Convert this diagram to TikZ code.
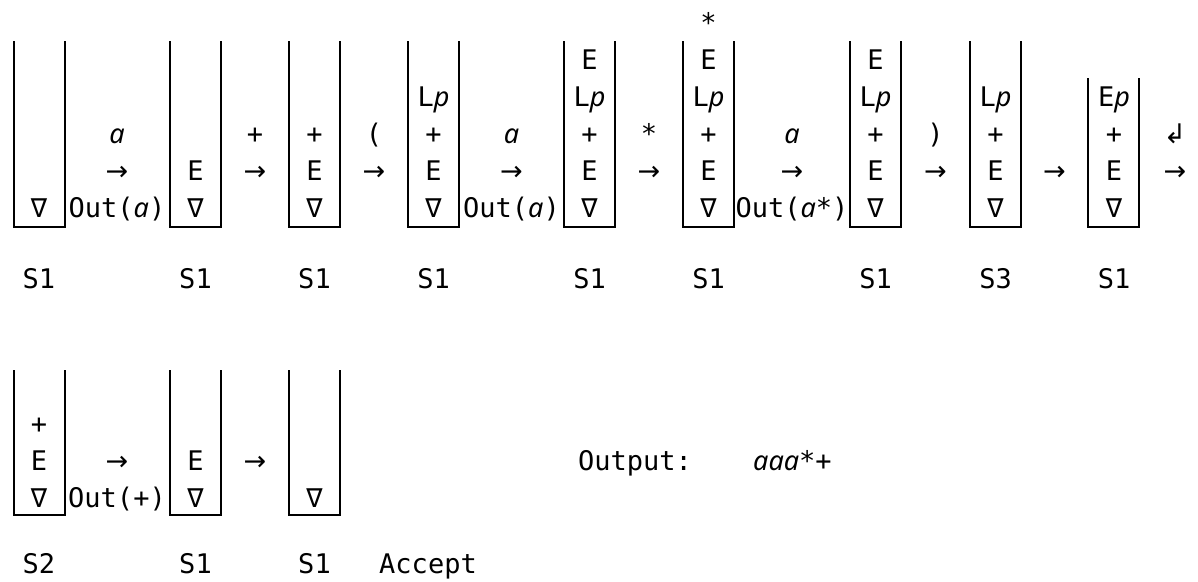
\documentclass[tikz,border=0pt]{standalone}
\usepackage{fontspec}
\setmonofont{DejaVu Sans Mono}
\newfontfamily\symfont{DejaVu Sans}
\newfontfamily\varfont{Noto Sans}
\newcommand{\va}{{\varfont\itshape a}}
\newcommand{\vp}{{\varfont\itshape p}}
\newcommand{\ra}{{\symfont →}}
\usetikzlibrary{positioning}

\begin{document}
\begin{tikzpicture}[x=1pt,y=-1pt,font=\ttfamily\fontsize{27}{30}\selectfont,
stk/.style={line width=1.9pt},
cell/.style={inner sep=0pt,anchor=base},
lbl/.style={inner sep=0pt,anchor=base west}]
\useasboundingbox (0,0) rectangle (1198,581);
% stacks, upper row
\foreach \l/\t in {14/41,170/41,289/41,408/41,564/41,683/41,850/41,970/41,1088/78}
  \draw[stk] (\l,\t) -- (\l,227) -- (\l+51,227) -- (\l+51,\t);
\foreach \x/\lst [count=\k] in {39/{∇},195.5/{∇,E},314.5/{∇,E,+},433.5/{∇,E,+,L\vp},
  589.5/{∇,E,+,L\vp,E},708.5/{∇,E,+,L\vp,E,*},875.5/{∇,E,+,L\vp,E},
  995.5/{∇,E,+,L\vp},1114/{∇,E,+,E\vp}}
  \foreach \t [count=\i] in \lst
    \node[cell] (c\k-\i) at (\x,254-37*\i) {\t};
% moves, upper row
\foreach \x/\sym/\out [count=\k] in {117/\va/Out(\va),255/+/,374/(/,511.5/\va/Out(\va),
  649/*/,792/\va/Out(\va*),935.5/)/,1054.5//,1175/{\symfont ↲}/}{
  \node[cell] (in\k) at (\x,143) {\sym};
  \node[cell] (go\k) at (\x,180) {\ra};
  \node[cell] (out\k) at (\x,217) {\out};
}
\foreach \x/\s [count=\k] in {39/S1,195.5/S1,314.5/S1,433.5/S1,589.5/S1,708.5/S1,
  875.5/S1,995.5/S3,1114/S1}
  \node[cell] (st\k) at (\x,288) {\s};
% lower row
\foreach \l in {14,170,289}
  \draw[stk] (\l,370) -- (\l,515) -- (\l+51,515) -- (\l+51,370);
\foreach \x/\lst [count=\k] in {39/{∇,E,+},195.5/{∇,E},314.5/{∇}}
  \foreach \t [count=\i] in \lst
    \node[cell] (d\k-\i) at (\x,544-37*\i) {\t};
\node[cell] (go10) at (117,470) {\ra};
\node[cell] (out10) at (117,507) {Out(+)};
\node[cell] (go11) at (255,470) {\ra};
\foreach \x/\s [count=\k] in {39/S2,195.5/S1,314.5/S1,428/Accept}
  \node[cell] (sl\k) at (\x,573) {\s};
\node[lbl] (outlbl) at (578,470) {Output:};
\node[lbl] (result) at (753,470) {\va\va\va*+};
\end{tikzpicture}
\end{document}
